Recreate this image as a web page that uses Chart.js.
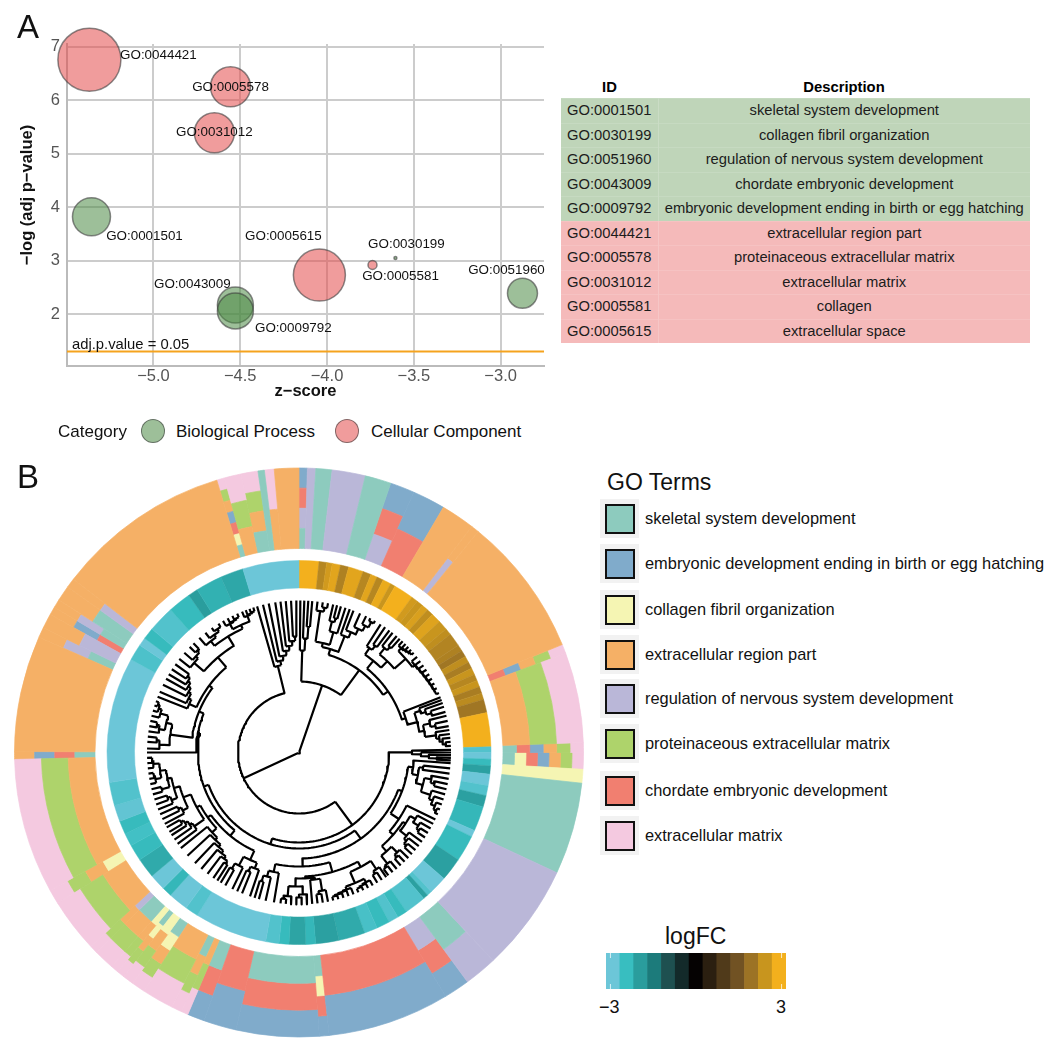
<!DOCTYPE html>
<html>
<head>
<meta charset="utf-8">
<title>GO terms</title>
<script src="https://cdn.jsdelivr.net/npm/chart.js@4"></script>
<style>
  html, body { margin:0; padding:0; background:#fff; font-family:"Liberation Sans", Arial, sans-serif; color:#111; }
  #page { position:relative; width:1055px; height:1049px; overflow:hidden; }
  canvas, .t { position:absolute; }
  .t { white-space:nowrap; line-height:1; }
  table { position:absolute; left:561px; top:75px; width:469px; border-collapse:collapse; table-layout:fixed; font-size:14.75px; text-align:center; color:#1c1c1c; }
  th { height:23px; padding:0; font-size:14.8px; font-weight:bold; color:#000; }
  td { height:24.5px; padding:0; }
  td:first-child { border-right:1px solid rgba(255,255,255,.18); }
  tr + tr td { box-shadow:inset 0 1px 0 rgba(255,255,255,.12); }
  .key { position:absolute; left:600px; width:39px; height:39px; background:#f2f2f2; }
  .key i { position:absolute; left:5px; top:5px; width:26px; height:26px; border:2px solid #111; display:block; }
</style>
</head>
<body>
<div id="page">
  <canvas id="bubble" width="556" height="410" style="left:0;top:0"></canvas>
  <canvas id="ring" width="572" height="571" style="left:13px;top:467px"></canvas>
  <canvas id="tree" width="320" height="321" style="left:139px;top:592px"></canvas>
  <canvas id="scale" width="180" height="36" style="left:606px;top:953px"></canvas>
  <div class="t" style="left:17px;top:10px;font-size:33px">A</div>
  <div class="t" style="left:17px;top:460px;font-size:33px">B</div>
</div>
<script>
// panel A
const goIds = ['GO:0044421','GO:0005578','GO:0031012','GO:0005581','GO:0005615','GO:0001501','GO:0030199','GO:0051960','GO:0043009','GO:0009792'];
const zScore = [-5.369,-4.556,-4.649,-3.738,-4.044,-5.357,-3.606,-2.874,-4.528,-4.528];
const logP = [6.757,6.25,5.39,2.92,2.73,3.82,3.05,2.39,2.17,2.06];
const bubbleR = [31.5,20,20,4.5,26,19,1.5,15,18,18];
const isCellular = [1,1,1,1,1,0,0,0,0,0];
const labelDx = [69,0,0,28,-36,53,11,-16,-43,58];
const labelDy = [-4,1,0,11,-39,20,-14,-23,-21,17];
const xTicks = [-5,-4.5,-4,-3.5,-3];
const yTicks = [2,3,4,5,6,7];
const threshold = 1.3;

// table
const tableIds = ['GO:0001501','GO:0030199','GO:0051960','GO:0043009','GO:0009792','GO:0044421','GO:0005578','GO:0031012','GO:0005581','GO:0005615'];
const tableDesc = ['skeletal system development','collagen fibril organization','regulation of nervous system development','chordate embryonic development','embryonic development ending in birth or egg hatching','extracellular region part','proteinaceous extracellular matrix','extracellular matrix','collagen','extracellular space'];

// panel B, terms
const termKeys = ['S','E','C','X','R','P','H','M'];
const termNames = ['skeletal system development','embryonic development ending in birth or egg hatching','collagen fibril organization','extracellular region part','regulation of nervous system development','proteinaceous extracellular matrix','chordate embryonic development','extracellular matrix'];
const termColors = ['#8DCBBE','#80ABCB','#F5F5B3','#F5B066','#BAB7D8','#AED36B','#F17F70','#F4C9E0'];
const legendY = [518,563,609,654,698,743,790,835];

// outer ring, clockwise from 12 o'clock: terms of each column (inner to outer) and its width in degrees
const colStacks = ['SRHE','R','S','R','S','RHE','HE','X','RX','X','HEXPM','XPM','SHEXPM','SCHEXPM','C','S','R','SR','RHE','HE','SCHE','SHE','HE','SHE','XPM','SXPM','XPM','SCXPM','CXPM','SCXPM','CXPM','SXPM','RXPM','XPM','CXPM','XPM','SHEX','X','SRX','RX','HEX','SRX','SX','RX','X','SCHEXPM','XPM','SXPM','S','XM','X'];
const colSpans = [1.7,1.7,3.3,6.8,5.3,5,6.7,6.9,1.6,28.7,1.9,18.4,2,3.4,2.8,18.8,22,6.7,5.3,24.9,2,16.9,6.7,3.5,1.4,2.1,6.5,2.8,2.2,1.6,1.6,4.2,1.6,11,3,27.6,1.6,23.7,2.1,3,1.7,1.7,3.2,1.9,35.7,1.6,3.4,3.5,1.3,2,5];

// logFC ring
const fcSpans = [6,2.3,1.7,2.5,2.5,4.5,2.5,2,2,2.5,1.5,6,2,2,2,2,3,3,2,4,2,2,2,2,2,2,2,2,2,4,10.3,
  1.7,2,2,2.5,3.5,3,3.5,7.5,2,8,7,5.5,1.5,1.5,6.5,3,3,4,4,8,7,3,5,3,4,22,4,6,3,5,6,5,4,4,5,7,38,5,2.5,3.5,8,7,3,8,7,17];
const fcValues = [3,2.3,2.6,2.8,2.2,2.8,2.3,2.8,2.3,2.9,2.5,3,2.6,2.5,2.7,2.4,2.75,2.5,2.4,2.25,2.2,2.05,2.4,2.15,2.5,2.3,2.5,2.15,2.35,2.05,3,
  -2.75,-3,-2.45,-2.05,-3,-2.75,-2.05,-2.4,-3,-2.45,-2.05,-3,-2.75,-2.05,-2.75,-2.45,-2.75,-2.45,-2.65,-2.2,-2.05,-2.4,-2.1,-2.45,-2.75,-3,-2.75,-3,-2.4,-3,-2.2,-2.45,-2.6,-2.45,-2.9,-2.75,-3,-2.7,-3,-2.45,-2.75,-2.45,-2,-2.3,-2.15,-3];
const fcPalette = ['#6CC6D8','#38BEC0','#2A9D9D','#1C7B7B','#1E5050','#132A2A','#050202','#2B1F10','#503A1A','#715223','#9C7325','#C8951E','#F3B01D'];
const fcTicks = ['−3','3'];

// tree, a node is [radius, ...children], a leaf is its angle
const n = (r, ...kids) => ({r, kids});
const l = (r, dr, ...items) => items.length <= 2 ? n(Math.min(r,149), ...items) : n(Math.min(r,149), items[0], l(r+dr, dr, ...items.slice(1)));

const treeA = n(71,
  l(102,12, .5,2,3.5,5),
  n(102,
    n(108,
      n(112, n(143,7,l(147,3,9,11)), n(125,l(135,4,13,14.5,16),17.8)),
      l(125,6,19.5,21,23.7,26.2,28,30)),
    n(108,
      n(118,
        l(126,5,32.5,34.5,36.5),
        n(127, l(135,4,38,40,41.5), n(142, l(146,1,43,44.5,46,47.5,49), l(145,.6,51,53,55,57,59,61,63,65,67)))),
      n(112,68.7,
        n(122, l(128,5,69.8,71,72.5,74.5), n(127, l(134,5,76,78,80), l(138,3,81.5,83,84.5,86,87.5)))))));

const treeC1 = n(113,89,l(122,8,90,91,92,93));
const treeP = n(115,94,n(121,n(125,96,98),n(128,l(135,4,100,102,104),l(138,4,106,108,110,112,114))));
const treeR = n(125,
  n(128, n(134,118,l(140,3,120,122,124)), l(136,3,126,128,130,132)),
  n(132, l(140,3,134,136,138), l(142,2,140,142,144)));
const treeH = n(114,
  n(124,
    n(130, l(140,3,145,147,149), n(142, l(146,1,151,153,155,157), l(145,1,159,161,163,165,167))),
    n(126, n(128,l(140,3,169,171,173),175), n(134,l(142,3,177,179,181),l(144,3,183,185,187)))),
  n(122,189.5,l(128,6,192.7,195.3,197)));
const treeF = n(108,
  n(118, l(124,5,198.8,202,204), l(128,6,206,209,211)),
  n(112,
    l(118,3,231,227.2,223.2,220,217,214.3,212.5),
    n(116, l(128,3,233,235,237,238.5,240.5),
      n(124, l(130,3,242,244,246), n(130, l(136,3,248,250,252), n(134, l(142,3,254,256), n(140, l(146,1,258,260,262), l(146,1,264,266,268))))))));
const treeW = n(108,
  n(130, l(140,3,271.5,274,276), n(136,l(142,3,278,280,282),l(144,3,284,286,288,289.7))),
  n(112, l(120,3,291.5,293.6,296.5,299,301,303.2,305.5),
    n(125, l(138,3,308,311,314,316), n(136, l(142,3,319,322,325,328), n(140, l(146,1,330,332,334,336), l(146,1,338,339.5,341,342.5))))));
const treeB = n(61,
  n(90, treeC1,
    n(96,
      n(106, n(110, treeP, n(120,116.2,treeR)), treeH),
      n(101, treeF, n(103,270,treeW)))),
  l(89,4.5,344,346.3,348.5,351,353,355,357,359));
const treeRoot = n(1, treeA, treeB);
const tipR = 152;

const font = '"Liberation Sans", Arial, sans-serif';
Chart.defaults.font.family = font;
Chart.defaults.animation = false;
Chart.defaults.plugins.legend.display = false;
Chart.defaults.plugins.tooltip.enabled = false;

const page = document.getElementById('page');
function text(s, x, y, size, extra) {
  const d = document.createElement('div');
  d.className = 't';
  d.textContent = s;
  d.style.cssText = 'left:'+x+'px;top:'+(y-size/2)+'px;font-size:'+size+'px;'+(extra||'');
  page.appendChild(d);
  return d;
}

// bubble chart
const labelPlugin = {
  id:'labels',
  afterDatasetsDraw(c) {
    const g = c.ctx, sx = c.scales.x, sy = c.scales.y;
    g.save();
    g.fillStyle = '#111';
    g.font = '13.4px '+font;
    g.textAlign = 'center';
    g.textBaseline = 'middle';
    goIds.forEach((id,i) => g.fillText(id, sx.getPixelForValue(zScore[i])+labelDx[i], sy.getPixelForValue(logP[i])+labelDy[i]));
    g.textAlign = 'left';
    g.font = '14.8px '+font;
    g.fillText('adj.p.value = 0.05', sx.left+5, sy.getPixelForValue(threshold)-7);
    g.translate(27,195);
    g.rotate(-Math.PI/2);
    g.textAlign = 'center';
    g.font = 'bold 16.5px '+font;
    g.fillText('−log (adj p−value)', 0, 0);
    g.restore();
  }
};
const pick = flag => goIds.map((id,i) => ({id:i, keep:isCellular[i]===flag})).filter(p => p.keep).map(p => ({x:zScore[p.id], y:logP[p.id], r:bubbleR[p.id]}));
new Chart(document.getElementById('bubble'), {
  type:'bubble',
  data:{datasets:[
    {label:'Biological Process', data:pick(0), backgroundColor:'rgba(77,139,70,.55)', borderColor:'rgba(60,60,60,.6)', borderWidth:1.5, clip:false},
    {label:'Cellular Component', data:pick(1), backgroundColor:'rgba(227,75,75,.55)', borderColor:'rgba(60,60,60,.6)', borderWidth:1.5, clip:false},
    {type:'line', data:[{x:-5.498,y:threshold},{x:-2.75,y:threshold}], borderColor:'#F5A31E', borderWidth:2, pointRadius:0, order:-1}
  ]},
  options:{
    responsive:false,
    layout:{autoPadding:false, padding:{top:44,right:12}},
    scales:{
      x:{type:'linear', min:-5.498, max:-2.75,
        afterBuildTicks(s){ s.ticks = xTicks.map(v => ({value:v})); },
        afterFit(s){ s.height = 44; s.paddingLeft = 0; s.paddingRight = 0; },
        grid:{color:'#CCCCCC', lineWidth:2, drawTicks:false},
        border:{color:'#BBBBBB', width:2},
        ticks:{color:'#555', font:{size:16.5}, padding:1, callback:v => v.toFixed(1).replace('-','−')},
        title:{display:true, text:'z−score', color:'#111', font:{size:16.5, weight:'bold'}, padding:{top:0,bottom:9}}
      },
      y:{type:'linear', min:1.03, max:7.05,
        afterBuildTicks(s){ s.ticks = yTicks.map(v => ({value:v})); },
        afterFit(s){ s.width = 67; s.paddingTop = 0; s.paddingBottom = 0; },
        grid:{color:'#CCCCCC', lineWidth:2, drawTicks:false},
        border:{color:'#BBBBBB', width:2},
        ticks:{color:'#555', font:{size:16.5}, padding:7}
      }
    }
  },
  plugins:[labelPlugin]
});

// bubble legend
text('Category', 58, 431, 17);
text('Biological Process', 176, 431, 17);
text('Cellular Component', 371, 431, 17);
[[153,'rgba(77,139,70,.55)'],[347,'rgba(227,75,75,.55)']].forEach(k => {
  const d = document.createElement('div');
  d.style.cssText = 'position:absolute;left:'+(k[0]-12)+'px;top:419px;width:22px;height:22px;border-radius:50%;border:1.5px solid rgba(60,60,60,.6);background:'+k[1];
  page.appendChild(d);
});

// table
const tb = document.createElement('table');
let html = '<colgroup><col style="width:97px"><col></colgroup><tr><th>ID</th><th>Description</th></tr>';
tableIds.forEach((id,i) => { html += '<tr style="background:'+(i<5?'#BFD5B9':'#F5BABA')+'"><td>'+id+'</td><td>'+tableDesc[i]+'</td></tr>'; });
tb.innerHTML = html;
page.appendChild(tb);

// rings
function fcColor(v) {
  const p = (v+3)*2, i = Math.min(11, Math.floor(p)), f = p-i;
  const a = fcPalette[i], b = fcPalette[i+1];
  const ch = (s,k) => parseInt(s.substr(1+k*2,2),16);
  return 'rgb('+[0,1,2].map(k => Math.round(ch(a,k)+(ch(b,k)-ch(a,k))*f)).join(',')+')';
}
const ringIn = 204, ringOut = 284.5;
const sets = [];
for (let parts = 1; parts <= 7; parts++) {
  for (let k = 0; k < parts; k++) {
    if (!colStacks.some(s => s.length === parts)) continue;
    const colors = colStacks.map(s => s.length === parts ? termColors[termKeys.indexOf(s[k])] : 'rgba(0,0,0,0)');
    sets.push({
      data:colSpans,
      backgroundColor:colors,
      borderColor:colors,
      borderWidth:.7,
      ringIn:ringIn+(ringOut-ringIn)*k/parts,
      ringOut:ringIn+(ringOut-ringIn)*(k+1)/parts
    });
  }
}
const fcColors = fcValues.map(fcColor);
sets.push({data:fcSpans, backgroundColor:fcColors, borderColor:fcColors, borderWidth:.5, ringIn:164.5, ringOut:192});
const radiusPlugin = {
  id:'radii',
  afterDatasetsUpdate(c) {
    c.data.datasets.forEach((d,i) => {
      c.getDatasetMeta(i).data.forEach(a => { a.innerRadius = d.ringIn; a.outerRadius = d.ringOut; });
    });
  }
};
new Chart(document.getElementById('ring'), {
  type:'doughnut',
  data:{datasets:sets},
  options:{responsive:false, cutout:0, layout:{padding:0}},
  plugins:[radiusPlugin]
});

// tree
const polar = (a,r) => ({x:r*Math.sin(a*Math.PI/180), y:r*Math.cos(a*Math.PI/180)});
const treePts = [];
const gap = {x:null, y:null};
function walk(node) {
  if (typeof node === 'number') return node;
  const angles = node.kids.map(walk);
  const a0 = Math.min(...angles), a1 = Math.max(...angles);
  for (let a = a0; a < a1; a += 1.5) treePts.push(polar(a,node.r));
  treePts.push(polar(a1,node.r), gap);
  node.kids.forEach((k,i) => {
    treePts.push(polar(angles[i],node.r), polar(angles[i], typeof k === 'number' ? tipR : k.r), gap);
  });
  return (a0+a1)/2;
}
const rootAngle = walk(treeRoot);
treePts.push({x:0,y:0}, polar(rootAngle,1));
new Chart(document.getElementById('tree'), {
  type:'scatter',
  data:{datasets:[{data:treePts, showLine:true, spanGaps:false, pointRadius:0, borderColor:'#000', borderWidth:2.2, borderJoinStyle:'round'}]},
  options:{
    responsive:false,
    scales:{
      x:{type:'linear', display:false, min:-160, max:160},
      y:{type:'linear', display:false, min:-160.5, max:160.5}
    }
  }
});

// GO terms legend
text('GO Terms', 607, 482, 23);
termNames.forEach((name,i) => {
  const d = document.createElement('div');
  d.className = 'key';
  d.style.top = (legendY[i]-19)+'px';
  d.innerHTML = '<i style="background:'+termColors[i]+'"></i>';
  page.appendChild(d);
  text(name, 645, legendY[i], 16.4);
});

// logFC scale, the small white ticks sit just inside both ends
const scaleTicks = {
  id:'scaleTicks',
  afterDatasetsDraw(c) {
    const g = c.ctx, sx = c.scales.x, h = c.height;
    g.save();
    g.fillStyle = 'rgba(255,255,255,.75)';
    [sx.getPixelForValue(0)-3, sx.getPixelForValue(fcPalette.length-1)+2].forEach(x => {
      g.fillRect(x, 0, 1, 5);
      g.fillRect(x, h-5, 1, 5);
    });
    g.restore();
  }
};
text('logFC', 665, 936, 23);
new Chart(document.getElementById('scale'), {
  type:'bar',
  data:{labels:fcPalette, datasets:[{data:fcPalette.map(() => 1), backgroundColor:fcPalette, barPercentage:1, categoryPercentage:1}]},
  options:{responsive:false, scales:{x:{display:false}, y:{display:false, min:0, max:1}}},
  plugins:[scaleTicks]
});
text(fcTicks[0], 599, 1007, 18);
text(fcTicks[1], 776, 1007, 18);
</script>
</body>
</html>
